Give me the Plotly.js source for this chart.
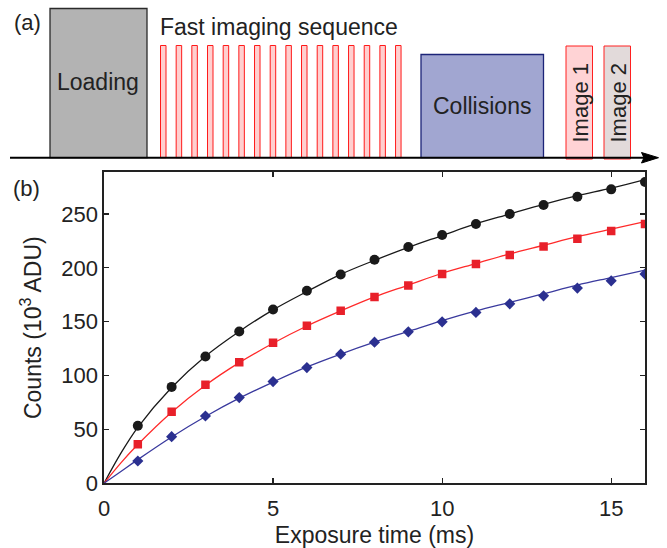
<!DOCTYPE html>
<html>
<head>
<meta charset="utf-8">
<script src="https://cdn.plot.ly/plotly-3.0.1.min.js"></script>
<style>html,body{margin:0;padding:0;background:#fff;}#chart{width:667px;height:548px;}</style>
</head>
<body>
<div id="chart"></div>
<script>
// ---- Panel (b) data ----
const exposureTime = [1, 2, 3, 4, 5, 6, 7, 8, 9, 10, 11, 12, 13, 14, 15, 16];
const countsBlack = [53.5, 89.5, 117.7, 140.9, 161.4, 178.7, 193.9, 207.5, 219.3, 230.5, 240.7, 250.0, 258.4, 266.1, 272.9, 279.7];
const countsRed   = [36.2, 66.5, 91.6, 112.4, 130.4, 146.2, 160.1, 172.9, 183.7, 194.2, 203.5, 211.9, 219.9, 227.0, 234.2, 240.7];
const countsBlue  = [20.7, 43.3, 62.5, 79.6, 94.4, 107.4, 119.9, 131.0, 140.6, 149.9, 158.6, 166.6, 174.0, 181.2, 188.0, 194.2];

// fit curves
const fitTime  = [0, 0.5, 1, 2, 3, 4, 5, 6, 7, 8, 9, 10, 11, 12, 13, 14, 15, 16];
const fitBlack = [0, 28, 52, 89, 118, 141, 161, 178, 194, 207, 219, 230, 241, 250, 259, 267, 274, 282];
const fitRed   = [0, 19, 36, 66, 91, 112, 130, 146, 160, 173, 184, 195, 204, 213, 221, 229, 236, 243];
const fitBlue  = [0, 11, 22, 43, 62, 79, 94, 108, 120, 131, 141, 151, 160, 168, 176, 184, 191, 198];

const xTicks = [0, 5, 10, 15];
const yTicks = [0, 50, 100, 150, 200, 250];

// ---- Panel (a) timing diagram (schematic) ----
const blockLabels = ['Loading', 'Collisions', 'Image 1', 'Image 2'];
const pulseCount = 16;
const sequenceTitle = 'Fast imaging sequence';

const FONT = 'Liberation Sans, Arial, Helvetica, sans-serif';

const traces = [
  {x: fitTime, y: fitBlack, mode: 'lines', line: {color: '#1a1a1a', width: 1.3, shape: 'spline'}, hoverinfo: 'skip'},
  {x: fitTime, y: fitRed,   mode: 'lines', line: {color: '#ff2a2a', width: 1.3, shape: 'spline'}, hoverinfo: 'skip'},
  {x: fitTime, y: fitBlue,  mode: 'lines', line: {color: '#3a3a9e', width: 1.3, shape: 'spline'}, hoverinfo: 'skip'},
  {x: exposureTime, y: countsBlack, mode: 'markers', marker: {symbol: 'circle', size: 10, color: '#1a1a1a'}},
  {x: exposureTime, y: countsRed,   mode: 'markers', marker: {symbol: 'square', size: 8.5, color: '#e8202a'}},
  {x: exposureTime, y: countsBlue,  mode: 'markers', marker: {symbol: 'diamond', size: 8.6, color: '#2b3090'}},
  {x: [], y: [], xaxis: 'x2', yaxis: 'y2', mode: 'markers', hoverinfo: 'skip'}
];

// schematic geometry (figure pixels on helper axes x2/y2)
const shapes = [];
const baseY = 157.7;
shapes.push({type: 'rect', xref: 'x2', yref: 'y2', x0: 50, x1: 147, y0: 8.5, y1: baseY,
  fillcolor: '#b3b3b3', line: {color: '#2a2a2a', width: 1.3}});
for (let i = 0; i < pulseCount; i++) {
  const x0 = 160.5 + i * 15.67;
  shapes.push({type: 'rect', xref: 'x2', yref: 'y2', x0: x0, x1: x0 + 5.5, y0: 45.5, y1: baseY,
    fillcolor: '#ffcfcf', line: {color: '#ff1a1a', width: 1}});
}
shapes.push({type: 'rect', xref: 'x2', yref: 'y2', x0: 421, x1: 543.5, y0: 54.5, y1: baseY,
  fillcolor: '#a1a6d1', line: {color: '#1c2478', width: 1.3}});
shapes.push({type: 'rect', xref: 'x2', yref: 'y2', x0: 566, x1: 592.5, y0: 46, y1: 159,
  fillcolor: '#ffd3d5', line: {color: '#ff2020', width: 1}});
shapes.push({type: 'rect', xref: 'x2', yref: 'y2', x0: 604, x1: 630.5, y0: 46, y1: 159,
  fillcolor: '#e2dada', line: {color: '#ff2020', width: 1}});
shapes.push({type: 'line', xref: 'x2', yref: 'y2', x0: 10, x1: 645, y0: baseY, y1: baseY,
  line: {color: '#000', width: 2}});
shapes.push({type: 'path', xref: 'x2', yref: 'y2', path: 'M 641.5 152.5 L 658.5 157.7 L 641.5 163 L 644 157.7 Z',
  fillcolor: '#000', line: {color: '#000', width: 1}});

function txt(text, x, y, size, angle) {
  return {text: text, x: x, y: y, xref: 'x2', yref: 'y2', showarrow: false,
    font: {family: FONT, size: size, color: '#222'}, textangle: angle || 0,
    xanchor: 'center', yanchor: 'middle'};
}
const annotations = [
  txt('(a)', 27, 22, 22),
  txt(blockLabels[0], 98, 82, 23),
  txt(sequenceTitle, 279, 27, 23),
  txt(blockLabels[1], 482, 106, 23),
  txt(blockLabels[2], 579.5, 103, 22, -90),
  txt(blockLabels[3], 617.5, 103, 22, -90),
  txt('(b)', 26, 188, 22)
];

const axisCommon = {
  showgrid: false, zeroline: false, showline: true, linecolor: '#222', linewidth: 1.6,
  mirror: 'ticks', ticks: 'inside', ticklen: 5, tickwidth: 1.2, tickcolor: '#222',
  tickfont: {family: FONT, size: 22, color: '#222'}
};

const layout = {
  width: 667, height: 548,
  margin: {l: 0, r: 0, t: 0, b: 0},
  paper_bgcolor: '#fff', plot_bgcolor: 'rgba(0,0,0,0)',
  showlegend: false,
  xaxis: Object.assign({}, axisCommon, {
    domain: [104 / 667, 645 / 667], range: [0, 16], tickvals: xTicks, ticktext: xTicks.map(String),
    anchor: 'y', ticklabelstandoff: 5,
    title: {text: 'Exposure time (ms)', font: {family: FONT, size: 23, color: '#222'}, standoff: 8}
  }),
  yaxis: Object.assign({}, axisCommon, {
    domain: [1 - 483.3 / 548, 1 - 172 / 548], range: [0, 289], tickvals: yTicks, ticktext: yTicks.map(String),
    anchor: 'x',
    title: {text: 'Counts (10<sup>3</sup> ADU)', font: {family: FONT, size: 23, color: '#222'}, standoff: 13}
  }),
  xaxis2: {domain: [0, 1], range: [0, 667], visible: false, anchor: 'y2', fixedrange: true},
  yaxis2: {domain: [0, 1], range: [548, 0], visible: false, anchor: 'x2', fixedrange: true},
  shapes: shapes,
  annotations: annotations
};

Plotly.newPlot('chart', traces, layout, {displayModeBar: false, staticPlot: true});
</script>
</body>
</html>
